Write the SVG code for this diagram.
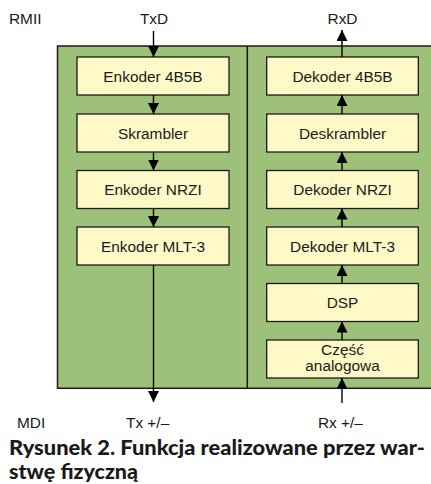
<svg xmlns="http://www.w3.org/2000/svg" width="431" height="484" viewBox="0 0 431 484">
<defs>
<style>
.lbl{font-family:"Liberation Sans",Arial,sans-serif;font-size:15.4px;fill:#1a1a1a}
.bt{font-family:"Liberation Sans",Arial,sans-serif;font-size:15.4px;fill:#1a1a1a;text-anchor:middle}
.box{fill:#FFF9C8;stroke:#1a1a1a;stroke-width:1.3}
.ln{stroke:#000;stroke-width:1.4;fill:none}
.cap{font-family:Lato,"Noto Sans",sans-serif;font-weight:900;font-size:20px;fill:#1a1a1a}
</style>
<marker id="ah" viewBox="0 0 11 11" refX="11" refY="5.5" markerWidth="11" markerHeight="11" markerUnits="userSpaceOnUse" orient="auto">
<path d="M0,0 L11,5.5 L0,11 z" fill="#000"/>
</marker>
</defs>
<rect x="0" y="0" width="431" height="484" fill="#fff"/>
<g id="phy">
<rect x="57.5" y="46" width="380" height="342.3" fill="#9DC178" stroke="#1a1a1a" stroke-width="1.5"/>
<line x1="247.3" y1="46" x2="247.3" y2="388.3" stroke="#1a1a1a" stroke-width="1.5"/>
</g>
<g id="labels">
<text class="lbl" x="9" y="24">RMII</text>
<text class="lbl" x="154" y="24" text-anchor="middle">TxD</text>
<text class="lbl" x="342.5" y="23.5" text-anchor="middle">RxD</text>
<text class="lbl" x="17" y="428">MDI</text>
<text class="lbl" x="126" y="428">Tx +/–</text>
<text class="lbl" x="318" y="428">Rx +/–</text>
</g>
<g id="enc4b5b"><rect class="box" x="77" y="57" width="152" height="38"/><text class="bt" x="153" y="81.5">Enkoder 4B5B</text></g>
<g id="skrambler"><rect class="box" x="77" y="114" width="152" height="38"/><text class="bt" x="153" y="138.5">Skrambler</text></g>
<g id="encnrzi"><rect class="box" x="77" y="170.5" width="152" height="38"/><text class="bt" x="153" y="195">Enkoder NRZI</text></g>
<g id="encmlt3"><rect class="box" x="77" y="227" width="152" height="38"/><text class="bt" x="153" y="251.5">Enkoder MLT-3</text></g>
<g id="dec4b5b"><rect class="box" x="266.7" y="57" width="151.6" height="38"/><text class="bt" x="342.5" y="81.5">Dekoder 4B5B</text></g>
<g id="deskrambler"><rect class="box" x="266.7" y="114" width="151.6" height="38"/><text class="bt" x="342.5" y="138.5">Deskrambler</text></g>
<g id="decnrzi"><rect class="box" x="266.7" y="170.5" width="151.6" height="38"/><text class="bt" x="342.5" y="195">Dekoder NRZI</text></g>
<g id="decmlt3"><rect class="box" x="266.7" y="227" width="151.6" height="38"/><text class="bt" x="342.5" y="251.5">Dekoder MLT-3</text></g>
<g id="dsp"><rect class="box" x="266.7" y="283.5" width="151.6" height="38"/><text class="bt" x="342.5" y="308">DSP</text></g>
<g id="analog"><rect class="box" x="266.7" y="340" width="151.6" height="38"/><text class="bt" x="342.5" y="354.5">Część</text><text class="bt" x="342.5" y="371">analogowa</text></g>
<g id="connectors">
<line class="ln" x1="153.5" y1="31" x2="153.5" y2="57" marker-end="url(#ah)"/>
<line class="ln" x1="153.5" y1="95" x2="153.5" y2="114" marker-end="url(#ah)"/>
<line class="ln" x1="153.5" y1="152" x2="153.5" y2="170.5" marker-end="url(#ah)"/>
<line class="ln" x1="153.5" y1="208.5" x2="153.5" y2="227" marker-end="url(#ah)"/>
<line class="ln" x1="153.5" y1="265" x2="153.5" y2="402" marker-end="url(#ah)"/>
<line class="ln" x1="342" y1="57" x2="342" y2="30" marker-end="url(#ah)"/>
<line class="ln" x1="342" y1="114" x2="342" y2="95" marker-end="url(#ah)"/>
<line class="ln" x1="342" y1="170.5" x2="342" y2="152" marker-end="url(#ah)"/>
<line class="ln" x1="342" y1="227" x2="342" y2="208.5" marker-end="url(#ah)"/>
<line class="ln" x1="342" y1="283.5" x2="342" y2="265" marker-end="url(#ah)"/>
<line class="ln" x1="342" y1="340" x2="342" y2="321.5" marker-end="url(#ah)"/>
<line class="ln" x1="342" y1="403" x2="342" y2="378" marker-end="url(#ah)"/>
</g>
<g id="caption">
<text class="cap" x="9" y="455" textLength="416" lengthAdjust="spacingAndGlyphs">Rysunek 2. Funkcja realizowane przez war-</text>
<text class="cap" x="9" y="479" textLength="129" lengthAdjust="spacingAndGlyphs">stwę fizyczną</text>
</g>
</svg>
